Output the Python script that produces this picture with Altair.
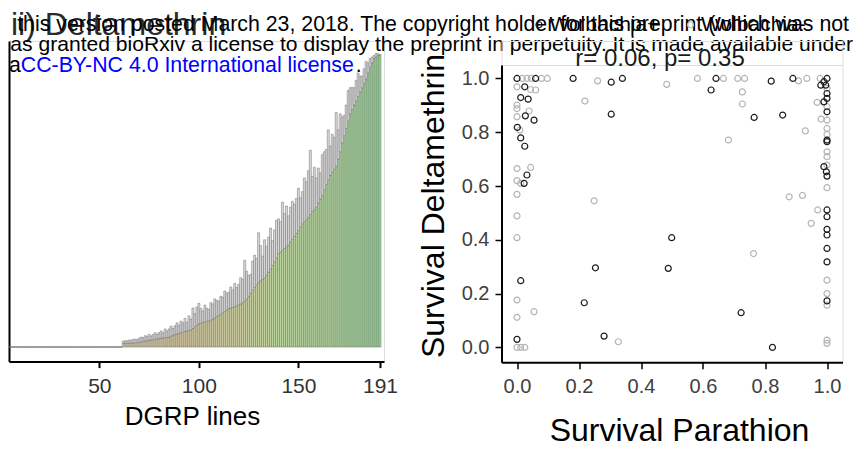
import altair as alt
import pandas as pd

FONT = "Liberation Sans"

# ---------------- left panel: mean survival (deltamethrin) per DGRP line, sorted ----------------
dgrp_mean = [
    0.0, 0.0, 0.0, 0.0, 0.0, 0.0, 0.0, 0.0, 0.0, 0.0,
    0.0, 0.0, 0.0, 0.0, 0.0, 0.0, 0.0, 0.0, 0.0, 0.0,
    0.0, 0.0, 0.0, 0.0, 0.0, 0.0, 0.0, 0.0, 0.0, 0.0,
    0.0, 0.0, 0.0, 0.0, 0.0, 0.0, 0.0, 0.0, 0.0, 0.0,
    0.0, 0.0, 0.0, 0.0, 0.0, 0.0, 0.0, 0.0, 0.0, 0.0,
    0.0, 0.0, 0.0, 0.0, 0.0, 0.0, 0.0, 0.0, 0.0, 0.0,
    0.0,
    0.012, 0.012, 0.012, 0.013, 0.013, 0.014,
    0.015, 0.015, 0.016, 0.018, 0.020, 0.021,
    0.022, 0.023, 0.024, 0.025, 0.027, 0.028,
    0.029, 0.030, 0.031, 0.032, 0.033, 0.034,
    0.037, 0.040, 0.043, 0.045, 0.047, 0.049,
    0.051, 0.053, 0.055, 0.057, 0.059, 0.064,
    0.070, 0.075, 0.080, 0.082, 0.084, 0.086,
    0.088, 0.089, 0.092, 0.096, 0.100, 0.104,
    0.108, 0.112, 0.118, 0.122, 0.127, 0.132,
    0.134, 0.136, 0.138, 0.141, 0.145, 0.148,
    0.152, 0.158, 0.165, 0.175, 0.185, 0.195,
    0.205, 0.214, 0.222, 0.228, 0.232, 0.238,
    0.246, 0.257, 0.268, 0.280, 0.292, 0.305,
    0.320, 0.326, 0.332, 0.338, 0.344, 0.350,
    0.360, 0.370, 0.380, 0.390, 0.400, 0.412,
    0.423, 0.430, 0.437, 0.445, 0.455, 0.465,
    0.472, 0.480, 0.494, 0.508, 0.520, 0.540,
    0.558, 0.575, 0.590, 0.600, 0.610, 0.620,
    0.645, 0.670, 0.700, 0.725, 0.750, 0.775,
    0.800, 0.815, 0.830, 0.845, 0.860, 0.875,
    0.890, 0.905, 0.920, 0.940, 0.960, 0.975,
    0.990, 0.995, 1.000, 1.000,
]
dgrp_se = [
    0.0, 0.0, 0.0, 0.0, 0.0, 0.0, 0.0, 0.0, 0.0, 0.0,
    0.0, 0.0, 0.0, 0.0, 0.0, 0.0, 0.0, 0.0, 0.0, 0.0,
    0.0, 0.0, 0.0, 0.0, 0.0, 0.0, 0.0, 0.0, 0.0, 0.0,
    0.0, 0.0, 0.0, 0.0, 0.0, 0.0, 0.0, 0.0, 0.0, 0.0,
    0.0, 0.0, 0.0, 0.0, 0.0, 0.0, 0.0, 0.0, 0.0, 0.0,
    0.0, 0.0, 0.0, 0.0, 0.0, 0.0, 0.0, 0.0, 0.0, 0.0,
    0.0,
    0.008, 0.010, 0.009, 0.011, 0.010, 0.012,
    0.012, 0.010, 0.014, 0.016, 0.012, 0.018,
    0.015, 0.020, 0.014, 0.018, 0.022, 0.016,
    0.020, 0.025, 0.018, 0.030, 0.022, 0.028,
    0.035, 0.024, 0.030, 0.038, 0.028, 0.040,
    0.032, 0.045, 0.030, 0.050, 0.036, 0.070,
    0.045, 0.062, 0.070, 0.050, 0.040, 0.058,
    0.045, 0.040, 0.060, 0.052, 0.065, 0.056,
    0.050, 0.062, 0.053, 0.070, 0.058, 0.056,
    0.072, 0.060, 0.080, 0.064, 0.070, 0.090,
    0.080, 0.140, 0.095, 0.070, 0.065, 0.100,
    0.110, 0.090, 0.170, 0.120, 0.080, 0.130,
    0.100, 0.120, 0.140, 0.085, 0.110, 0.130,
    0.120, 0.105, 0.165, 0.120, 0.140, 0.100,
    0.120, 0.130, 0.110, 0.120, 0.145, 0.100,
    0.110, 0.150, 0.130, 0.160, 0.220, 0.120,
    0.145, 0.100, 0.120, 0.090, 0.140, 0.130,
    0.120, 0.170, 0.100, 0.130, 0.110, 0.185,
    0.100, 0.130, 0.090, 0.070, 0.080, 0.105,
    0.090, 0.075, 0.060, 0.070, 0.080, 0.055,
    0.040, 0.050, 0.060, 0.035, 0.030, 0.020,
    0.010, 0.012, 0.006, 0.004,
]
dgrp_line = list(range(1, 192))
left_ticks = [50, 100, 150, 191]

# ---------------- right panel: survival parathion vs deltamethrin ----------------
wpos_x = [0.0, 0.06, 0.025, 0.012, 0.036, 0.027, 0.055, 0.001, 0.012, 0.025,
          0.032, 0.023, 0.012, 0.0, 0.181, 0.304, 0.34, 0.304, 0.253, 0.217,
          0.281, 0.499, 0.488, 0.642, 0.626, 0.765, 0.723, 0.824, 0.82, 0.89,
          0.857, 1.0, 0.99, 0.98, 0.996, 0.99, 1.0, 1.0, 1.0, 1.0,
          0.99, 0.998, 1.0, 1.0, 1.0, 1.0, 1.0, 1.0, 1.0, 1.0, 1.0]
wpos_y = [1.0, 1.0, 0.969, 0.929, 0.923, 0.861, 0.845, 0.818, 0.779, 0.748,
          0.641, 0.61, 0.248, 0.03, 1.0, 0.986, 1.0, 0.867, 0.296, 0.166,
          0.042, 0.408, 0.294, 1.0, 0.957, 0.855, 0.129, 0.0, 0.99, 1.0,
          0.864, 1.0, 0.988, 0.975, 0.975, 0.913, 0.926, 0.876, 0.771, 0.765,
          0.672, 0.653, 0.637, 0.511, 0.486, 0.439, 0.418, 0.368, 0.318, 0.173, 0.944]
wneg_x = [0.017, 0.032, 0.046, 0.079, 0.098, 0.0, 0.044, 0.06, 0.0, 0.0,
          0.0, 0.039, 0.009, 0.0, 0.044, 0.0, 0.012, 0.0, 0.0, 0.0,
          0.0, 0.055, 0.0, 0.0, 0.012, 0.025, 0.219, 0.26, 0.249, 0.327,
          0.483, 0.582, 0.666, 0.712, 0.734, 0.727, 0.727, 0.682, 0.763, 0.908,
          0.935, 0.93, 0.878, 0.921, 0.97, 0.949, 0.968, 0.981, 0.978, 1.0,
          1.0, 1.0, 1.0, 1.0, 1.0, 1.0, 1.0, 1.0, 1.0, 1.0,
          1.0, 1.0, 1.0]
wneg_y = [1.0, 1.0, 1.0, 1.0, 1.0, 0.969, 0.959, 0.957, 0.901, 0.888,
          0.858, 0.879, 0.808, 0.665, 0.669, 0.62, 0.61, 0.569, 0.489, 0.408,
          0.176, 0.133, 0.112, 0.0, 0.0, 0.0, 0.916, 0.991, 0.545, 0.021,
          0.978, 1.0, 1.0, 1.0, 1.0, 0.95, 0.905, 0.771, 0.349, 0.991,
          1.0, 0.805, 0.56, 0.565, 0.511, 0.461, 0.911, 0.849, 1.0, 0.963,
          0.845, 0.814, 0.792, 0.727, 0.709, 0.594, 0.25, 0.157, 0.027, 0.015,
          0.895, 0.678, 0.2]
right_ticks = [0.0, 0.2, 0.4, 0.6, 0.8, 1.0]
groups = ["Wolbachia+", "Wolbachia-"]
group_colors = ["#1c1c1c", "#b5b5b5"]

# ---------------- text ----------------
panel_title = "ii) Deltamethrin"
stat_title = "r= 0.06, p= 0.35"
header1 = "this version posted March 23, 2018. The copyright holder for this preprint (which was not"
header2 = "as granted bioRxiv a license to display the preprint in perpetuity. It is made available under"
header3 = ["a", "CC-BY-NC 4.0 International license", "."]


def label(text, x, y, size, color, align="left"):
    return alt.Chart(pd.DataFrame({"t": [text]})).mark_text(
        align=align, baseline="alphabetic", font=FONT, fontSize=size, color=color
    ).encode(text="t:N", x=alt.value(x), y=alt.value(y))


# ---------------- left chart ----------------
bars_df = pd.DataFrame({"line": dgrp_line, "mean": dgrp_mean, "se": dgrp_se})
base = alt.Chart(bars_df).transform_calculate(
    x0="datum.line - 0.5", x1="datum.line + 0.5", top="datum.mean + datum.se"
)
xL = alt.X(
    "x0:Q",
    scale=alt.Scale(domain=[4.6, 193.0], nice=False, zero=False),
    axis=alt.Axis(
        values=left_ticks, title="DGRP lines", grid=False,
        labelFont=FONT, labelFontSize=21, labelColor="#333333", labelPadding=8,
        labelFlush=False, tickSize=6, tickWidth=2, tickColor="black",
        domainColor="black", domainWidth=2,
        titleFont=FONT, titleFontSize=26, titleFontWeight="normal", titleColor="black",
        titleBaseline="alphabetic", titleY=63, titleX=183,
    ),
)
yL = alt.Y(
    "mean:Q",
    scale=alt.Scale(domain=[-0.05, 1.05], nice=False, zero=False),
    axis=alt.Axis(labels=False, ticks=False, title=None, grid=False,
                  domainColor="black", domainWidth=2),
)
bars = base.mark_bar(clip=True, stroke="#626262", strokeWidth=0.45).encode(
    x=xL, x2="x1:Q", y=yL, y2=alt.datum(0),
    color=alt.Color("mean:Q",
                    scale=alt.Scale(domain=[0, 0.3, 1], range=["#dfcda6", "#bfd6a0", "#9edb9b"],
                                    interpolate="rgb"),
                    legend=None),
)
errs = base.mark_bar(clip=True, fill="#dadada", stroke="#707070", strokeWidth=0.5).encode(
    x=xL, x2="x1:Q", y=yL, y2="top:Q",
)

left = alt.layer(
    bars, errs,
    label(panel_title, 2, -6.4, 32, "#2b2b2b"),
    label(header1, 840, -10.4, 21.3, "black", align="right"),
    label(header2, 844, 9.6, 21.1, "black", align="right"),
    label(header3[0], 0, 30.6, 21.3, "black"),
    label(header3[1], 11.8, 30.6, 21.3, "#0000ff"),
    label(header3[2], 346.8, 30.6, 21.3, "black"),
).properties(width=375, height=320.6)

# ---------------- right chart ----------------
pts_df = pd.DataFrame({
    "par": wneg_x + wpos_x,
    "del": wneg_y + wpos_y,
    "wol": [groups[1]] * len(wneg_x) + [groups[0]] * len(wpos_x),
})
axis_common = dict(
    values=right_ticks, format=".1f", grid=False,
    labelFont=FONT, labelFontSize=20, labelColor="#404040",
    tickSize=6.5, tickWidth=1.5, tickColor="black",
    domainColor="black", domainWidth=2,
    titleFont=FONT, titleFontSize=32, titleFontWeight="normal", titleColor="black",
    titleBaseline="alphabetic",
)
pts = alt.Chart(pts_df).mark_point(filled=False, size=36, strokeWidth=1.2, opacity=1).encode(
    x=alt.X("par:Q", scale=alt.Scale(domain=[-0.05, 1.05], nice=False, zero=False),
            axis=alt.Axis(title="Survival Parathion", labelPadding=8, labelFlush=False,
                          titleY=78, titleX=177.5, **axis_common)),
    y=alt.Y("del:Q", scale=alt.Scale(domain=[-0.055, 1.05], nice=False, zero=False),
            axis=alt.Axis(title="Survival Deltamethrin", labelPadding=6,
                          titleX=-58.5, titleY=140.5, titleAngle=270, **axis_common)),
    color=alt.Color(
        "wol:N",
        scale=alt.Scale(domain=groups, range=group_colors),
        legend=alt.Legend(
            title=None, orient="none", legendX=27, legendY=-27, direction="horizontal",
            labelFont=FONT, labelFontSize=21, labelColor="black", labelOffset=0,
            symbolType="circle", symbolSize=36, symbolStrokeWidth=1.2,
            columnPadding=20.5, padding=0,
        ),
    ),
)
right = alt.layer(pts, label(stat_title, 158.5, 0.5, 24, "#1a1a1a", align="center")).properties(
    width=341, height=297.2
)

spacer = alt.Chart(pd.DataFrame({"a": [0]})).mark_point(opacity=0).encode(
    x=alt.value(0), y=alt.value(0)
).properties(width=341, height=24)

right_col = alt.vconcat(spacer, right, spacing=0, bounds="flush")

chart = alt.hconcat(left, right_col, spacing=117.5, bounds="flush", padding=0).configure_view(
    stroke=None
).configure(font=FONT)

chart.save("out.html", embed_options={"renderer": "svg", "actions": False})
